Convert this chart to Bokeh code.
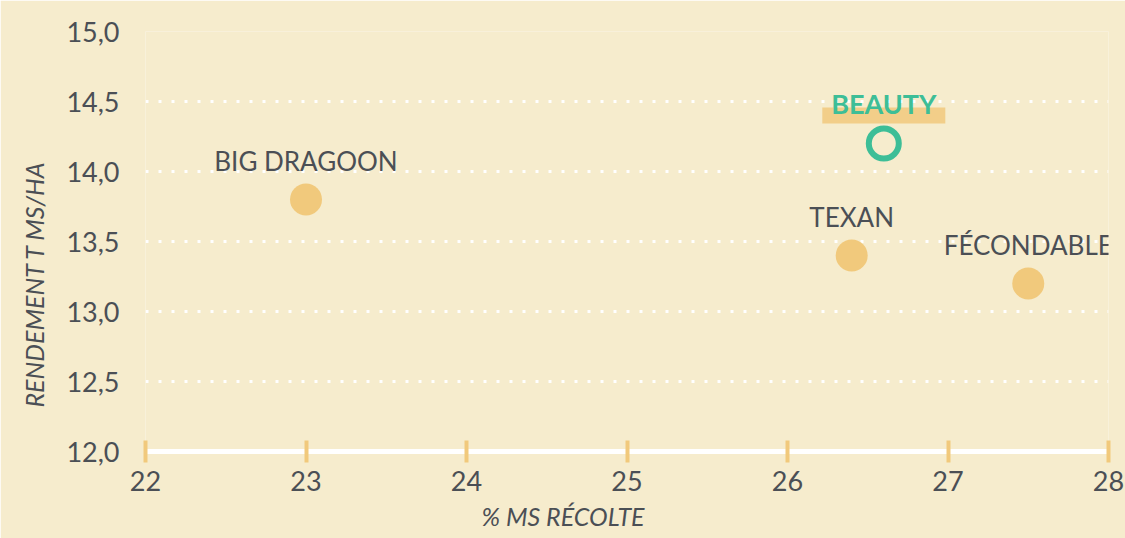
from bokeh.plotting import figure
from bokeh.models import FixedTicker, CustomJSTickFormatter, Title, Range1d
from bokeh.core.properties import value
from bokeh.embed import file_html
from bokeh.resources import INLINE

# ---- data ----
varieties = ["BIG DRAGOON", "TEXAN", "FÉCONDABLE"]
ms_recolte = [23.0, 26.4, 27.5]
rendement = [13.8, 13.4, 13.2]
highlight_name = ["BEAUTY"]
highlight_ms = [26.6]
highlight_rdt = [14.2]
x_ticks = [22, 23, 24, 25, 26, 27, 28]
y_ticks = [12.0, 12.5, 13.0, 13.5, 14.0, 14.5, 15.0]
x_title = "% MS RÉCOLTE"
y_title = "RENDEMENT T MS/HA"

FONT = "Lato"
TEXT = "#4b4f55"
ORANGE = "#f1c97c"
TEAL = "#3dbe97"
BG = "#f6eccd"

W, H = 1125, 538
B_LEFT, B_RIGHT, B_TOP, B_BOTTOM = 145, 17, 31, 87

p = figure(width=W, height=H, x_range=Range1d(22, 28), y_range=Range1d(12, 15),
           output_backend="svg", toolbar_location=None,
           min_border_left=B_LEFT, min_border_right=B_RIGHT,
           min_border_top=B_TOP, min_border_bottom=B_BOTTOM)
p.background_fill_color = BG
p.border_fill_color = BG
p.outline_line_color = None

# x axis
xa = p.xaxis[0]
xa.ticker = FixedTicker(ticks=x_ticks)
xa.axis_line_color = "white"
xa.axis_line_width = 5
xa.major_tick_line_color = ORANGE
xa.major_tick_line_width = 4
xa.major_tick_in = 11
xa.major_tick_out = 11
xa.minor_tick_line_color = None
xa.major_label_standoff = 8
xa.major_label_text_font = FONT
xa.major_label_text_font_size = "27px"
xa.major_label_text_color = TEXT

# y axis
ya = p.yaxis[0]
ya.ticker = FixedTicker(ticks=y_ticks)
ya.formatter = CustomJSTickFormatter(code="return tick.toFixed(1).replace('.', ',');")
ya.axis_line_color = None
ya.major_tick_line_color = None
ya.minor_tick_line_color = None
ya.major_label_standoff = 20
ya.major_label_text_font = FONT
ya.major_label_text_font_size = "27px"
ya.major_label_text_color = TEXT

p.xgrid.grid_line_color = None
p.ygrid.ticker = FixedTicker(ticks=y_ticks)
p.ygrid.grid_line_color = "white"
p.ygrid.grid_line_width = 3
p.ygrid.grid_line_dash = "3 10"

# axis titles
p.add_layout(Title(text=x_title, align="left", offset=336, standoff=11, text_font=FONT,
                   text_font_style="italic", text_font_size="25px",
                   text_color=TEXT), "below")
p.add_layout(Title(text=y_title, align="left", offset=44, standoff=30,
                   text_font=FONT,
                   text_font_style="italic", text_font_size="25px",
                   text_color=TEXT), "left")

# points
p.scatter(ms_recolte, rendement, size=32, fill_color=ORANGE, line_color=None)
p.text(ms_recolte, rendement, text=varieties, text_align="center",
       text_baseline="bottom", y_offset=-23, text_font=value(FONT),
       text_font_size="26px", text_color=TEXT)

# highlighted point
frame_h = H - B_TOP - B_BOTTOM
px_to_data = (15 - 12) / frame_h
hl_y = [v + 28 * px_to_data for v in highlight_rdt]
p.rect(highlight_ms, hl_y, width=123, height=16, width_units="screen",
       height_units="screen", fill_color=ORANGE, line_color=None, fill_alpha=0.85)
p.text(highlight_ms, highlight_rdt, text=highlight_name, text_align="center",
       text_baseline="bottom", y_offset=-24, text_font=value(FONT),
       text_font_style="bold", text_font_size="27px", text_color=TEAL)
p.scatter(highlight_ms, highlight_rdt, size=30, fill_color=None,
          line_color=TEAL, line_width=6)

open("out.html", "w").write(file_html(p, INLINE))
